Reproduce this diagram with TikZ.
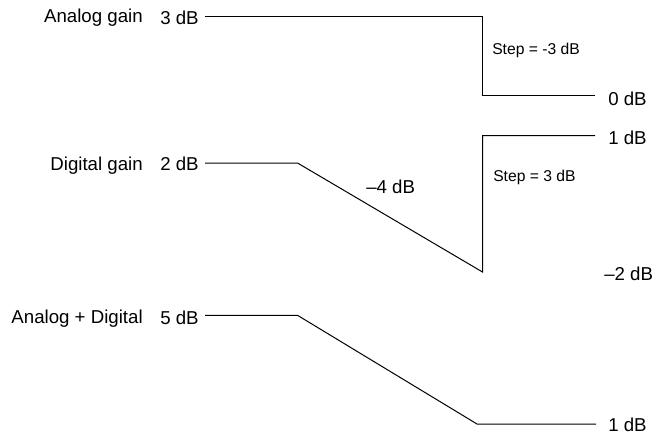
\documentclass[tikz,border=0pt]{standalone}
\usepackage{fontspec}
\setmainfont{Liberation Sans}
\tikzset{
	rowlabel/.style={inner sep=0pt, font=\fontsize{14}{16}\selectfont},
	steplabel/.style={inner sep=0pt, font=\fontsize{11.75}{13}\selectfont},
	gaincurve/.style={line width=0.75pt, line join=miter}
}

\begin{document}
\begin{tikzpicture}[x=0.75pt,y=0.75pt,yscale=-1,xscale=1]
\useasboundingbox (0,0) rectangle (653,435); %same size as the reference

% names of the rows
\node [rowlabel, anchor=base east] (analog) at (143,22.7) {Analog gain};
\node [rowlabel, anchor=base east] (digital) at (143,170) {Digital gain};
\node [rowlabel, anchor=base east] (total) at (143,323.3) {Analog + Digital};

% start values
\node [rowlabel, anchor=base west] (analogStart) at (160,25) {3 dB};
\node [rowlabel, anchor=base west] (digitalStart) at (160,170.3) {2 dB};
\node [rowlabel, anchor=base west] (totalStart) at (160,324.3) {5 dB};

% end values
\node [rowlabel, anchor=base west] (analogEnd) at (608,105) {0 dB};
\node [rowlabel, anchor=base west] (digitalEnd) at (608,144) {1 dB};
\node [rowlabel, anchor=base west] (digitalLow) at (604,280) {--2 dB};
\node [rowlabel, anchor=base west] (totalEnd) at (608,431.7) {1 dB};

% steps and ramp
\node [steplabel, anchor=base west] (analogStep) at (492,54.3) {Step = -3 dB};
\node [steplabel, anchor=base west] (digitalStep) at (493,181.7) {Step = 3 dB};
\node [rowlabel, anchor=base west] (digitalRamp) at (366,193.3) {--4 dB};

% corners
\coordinate (a1) at (205,16.7);
\coordinate (a2) at (482.5,16.7);
\coordinate (a3) at (482.5,96);
\coordinate (a4) at (595,96);

\coordinate (d1) at (205,163);
\coordinate (d2) at (297.5,163);
\coordinate (d3) at (482.5,272);
\coordinate (d4) at (482.5,135.7);
\coordinate (d5) at (595,135.7);

\coordinate (t1) at (205,315.3);
\coordinate (t2) at (297.5,315.3);
\coordinate (t3) at (477,424);
\coordinate (t4) at (596,424);

\draw [gaincurve] (a1) -- (a2) -- (a3) -- (a4);
\draw [gaincurve] (d1) -- (d2) -- (d3) -- (d4) -- (d5);
\draw [gaincurve] (t1) -- (t2) -- (t3) -- (t4);

\end{tikzpicture}
\end{document}
